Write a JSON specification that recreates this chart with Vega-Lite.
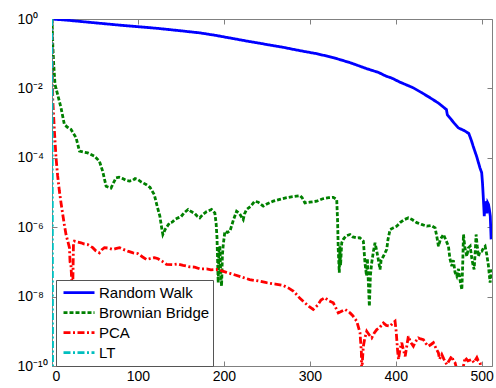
{
  "$schema": "https://vega.github.io/schema/vega-lite/v6.json",
  "width": 440,
  "height": 347,
  "autosize": "none",
  "padding": {"left": 52, "top": 19, "right": 4, "bottom": 22},
  "background": "white",
  "config": {
    "font": "Liberation Sans",
    "view": {"stroke": null},
    "axis": {
      "grid": false,
      "domainColor": "#808080",
      "domainWidth": 1,
      "tickColor": "#808080",
      "tickWidth": 1,
      "labelColor": "black",
      "labelFontSize": 14,
      "labelFont": "Liberation Sans",
      "title": null
    }
  },
  "data": {
    "values": [
      {"s": "Random Walk", "x": 0, "y": 1},
      {"s": "Random Walk", "x": 20, "y": 0.912},
      {"s": "Random Walk", "x": 50, "y": 0.776},
      {"s": "Random Walk", "x": 80, "y": 0.661},
      {"s": "Random Walk", "x": 123, "y": 0.537},
      {"s": "Random Walk", "x": 150, "y": 0.457},
      {"s": "Random Walk", "x": 172, "y": 0.398},
      {"s": "Random Walk", "x": 190, "y": 0.339},
      {"s": "Random Walk", "x": 210, "y": 0.275},
      {"s": "Random Walk", "x": 230, "y": 0.224},
      {"s": "Random Walk", "x": 250, "y": 0.184},
      {"s": "Random Walk", "x": 270, "y": 0.151},
      {"s": "Random Walk", "x": 288, "y": 0.123},
      {"s": "Random Walk", "x": 308, "y": 0.1},
      {"s": "Random Walk", "x": 327, "y": 0.0776},
      {"s": "Random Walk", "x": 347, "y": 0.055},
      {"s": "Random Walk", "x": 366, "y": 0.0372},
      {"s": "Random Walk", "x": 380, "y": 0.0288},
      {"s": "Random Walk", "x": 389, "y": 0.0224},
      {"s": "Random Walk", "x": 395, "y": 0.02},
      {"s": "Random Walk", "x": 405, "y": 0.0151},
      {"s": "Random Walk", "x": 420, "y": 0.0105},
      {"s": "Random Walk", "x": 430, "y": 0.00759},
      {"s": "Random Walk", "x": 440, "y": 0.00537},
      {"s": "Random Walk", "x": 450, "y": 0.00372},
      {"s": "Random Walk", "x": 459, "y": 0.00245},
      {"s": "Random Walk", "x": 460, "y": 0.00174},
      {"s": "Random Walk", "x": 462, "y": 0.00151},
      {"s": "Random Walk", "x": 468, "y": 0.001},
      {"s": "Random Walk", "x": 473, "y": 7.24e-4},
      {"s": "Random Walk", "x": 480, "y": 6.03e-4},
      {"s": "Random Walk", "x": 485, "y": 5.01e-4},
      {"s": "Random Walk", "x": 488, "y": 3.16e-4},
      {"s": "Random Walk", "x": 490, "y": 2.19e-4},
      {"s": "Random Walk", "x": 494, "y": 1.12e-4},
      {"s": "Random Walk", "x": 498, "y": 5.13e-5},
      {"s": "Random Walk", "x": 500, "y": 3.72e-5},
      {"s": "Random Walk", "x": 501, "y": 1.78e-5},
      {"s": "Random Walk", "x": 502, "y": 6.31e-6},
      {"s": "Random Walk", "x": 503, "y": 2.09e-6},
      {"s": "Random Walk", "x": 504, "y": 5.01e-6},
      {"s": "Random Walk", "x": 505, "y": 5.13e-6},
      {"s": "Random Walk", "x": 506, "y": 2.51e-6},
      {"s": "Random Walk", "x": 507, "y": 5.01e-6},
      {"s": "Random Walk", "x": 508, "y": 4.47e-6},
      {"s": "Random Walk", "x": 509, "y": 3.16e-6},
      {"s": "Random Walk", "x": 510, "y": 2.09e-6},
      {"s": "Random Walk", "x": 511, "y": 4.47e-7},

      {"s": "Brownian Bridge", "x": 0, "y": 1},
      {"s": "Brownian Bridge", "x": 1, "y": 0.158},
      {"s": "Brownian Bridge", "x": 2, "y": 0.049},
      {"s": "Brownian Bridge", "x": 3.5, "y": 0.0129},
      {"s": "Brownian Bridge", "x": 6.6, "y": 6.61e-3},
      {"s": "Brownian Bridge", "x": 10.5, "y": 2.75e-3},
      {"s": "Brownian Bridge", "x": 14.4, "y": 9.12e-4},
      {"s": "Brownian Bridge", "x": 18, "y": 7.59e-4},
      {"s": "Brownian Bridge", "x": 22, "y": 6.61e-4},
      {"s": "Brownian Bridge", "x": 28, "y": 3.8e-4},
      {"s": "Brownian Bridge", "x": 32, "y": 1.55e-4},
      {"s": "Brownian Bridge", "x": 37, "y": 1.45e-4},
      {"s": "Brownian Bridge", "x": 41.6, "y": 1.38e-4},
      {"s": "Brownian Bridge", "x": 49.4, "y": 1.12e-4},
      {"s": "Brownian Bridge", "x": 55.2, "y": 7.94e-5},
      {"s": "Brownian Bridge", "x": 59, "y": 4.07e-5},
      {"s": "Brownian Bridge", "x": 63, "y": 1.51e-5},
      {"s": "Brownian Bridge", "x": 66, "y": 1.41e-5},
      {"s": "Brownian Bridge", "x": 68.7, "y": 1.35e-5},
      {"s": "Brownian Bridge", "x": 71, "y": 1.78e-5},
      {"s": "Brownian Bridge", "x": 74.5, "y": 2.63e-5},
      {"s": "Brownian Bridge", "x": 78, "y": 2.75e-5},
      {"s": "Brownian Bridge", "x": 82.3, "y": 2.51e-5},
      {"s": "Brownian Bridge", "x": 86, "y": 2.24e-5},
      {"s": "Brownian Bridge", "x": 90.1, "y": 2.14e-5},
      {"s": "Brownian Bridge", "x": 94, "y": 2.24e-5},
      {"s": "Brownian Bridge", "x": 96.7, "y": 2.51e-5},
      {"s": "Brownian Bridge", "x": 100, "y": 2.34e-5},
      {"s": "Brownian Bridge", "x": 104, "y": 2.0e-5},
      {"s": "Brownian Bridge", "x": 109.5, "y": 1.7e-5},
      {"s": "Brownian Bridge", "x": 114, "y": 1.41e-5},
      {"s": "Brownian Bridge", "x": 119, "y": 8.71e-6},
      {"s": "Brownian Bridge", "x": 122.3, "y": 4.07e-6},
      {"s": "Brownian Bridge", "x": 125.5, "y": 2.09e-6},
      {"s": "Brownian Bridge", "x": 127.5, "y": 1.0e-6},
      {"s": "Brownian Bridge", "x": 129, "y": 6.17e-7},
      {"s": "Brownian Bridge", "x": 132, "y": 8.91e-7},
      {"s": "Brownian Bridge", "x": 137, "y": 1.35e-6},
      {"s": "Brownian Bridge", "x": 140, "y": 1.41e-6},
      {"s": "Brownian Bridge", "x": 143, "y": 1.66e-6},
      {"s": "Brownian Bridge", "x": 146.8, "y": 1.86e-6},
      {"s": "Brownian Bridge", "x": 150, "y": 2.0e-6},
      {"s": "Brownian Bridge", "x": 154, "y": 2.63e-6},
      {"s": "Brownian Bridge", "x": 158.4, "y": 3.24e-6},
      {"s": "Brownian Bridge", "x": 162, "y": 2.82e-6},
      {"s": "Brownian Bridge", "x": 166, "y": 2.51e-6},
      {"s": "Brownian Bridge", "x": 169, "y": 2.09e-6},
      {"s": "Brownian Bridge", "x": 172, "y": 1.86e-6},
      {"s": "Brownian Bridge", "x": 176, "y": 2.4e-6},
      {"s": "Brownian Bridge", "x": 180, "y": 2.82e-6},
      {"s": "Brownian Bridge", "x": 185.7, "y": 3.24e-6},
      {"s": "Brownian Bridge", "x": 189.5, "y": 2.57e-6},
      {"s": "Brownian Bridge", "x": 191, "y": 1.26e-6},
      {"s": "Brownian Bridge", "x": 192, "y": 5.01e-7},
      {"s": "Brownian Bridge", "x": 193.4, "y": 2.51e-8},
      {"s": "Brownian Bridge", "x": 194.3, "y": 2.0e-7},
      {"s": "Brownian Bridge", "x": 195.3, "y": 2.82e-7},
      {"s": "Brownian Bridge", "x": 196.3, "y": 5.01e-8},
      {"s": "Brownian Bridge", "x": 197.3, "y": 2.0e-8},
      {"s": "Brownian Bridge", "x": 198.3, "y": 1.58e-7},
      {"s": "Brownian Bridge", "x": 199.3, "y": 3.16e-7},
      {"s": "Brownian Bridge", "x": 201.2, "y": 7.59e-7},
      {"s": "Brownian Bridge", "x": 204, "y": 7.08e-7},
      {"s": "Brownian Bridge", "x": 207, "y": 7.59e-7},
      {"s": "Brownian Bridge", "x": 211, "y": 1.58e-6},
      {"s": "Brownian Bridge", "x": 214.8, "y": 2.88e-6},
      {"s": "Brownian Bridge", "x": 218, "y": 2.51e-6},
      {"s": "Brownian Bridge", "x": 222.5, "y": 1.66e-6},
      {"s": "Brownian Bridge", "x": 224, "y": 2.4e-6},
      {"s": "Brownian Bridge", "x": 226.4, "y": 3.24e-6},
      {"s": "Brownian Bridge", "x": 231, "y": 3.98e-6},
      {"s": "Brownian Bridge", "x": 236, "y": 5.62e-6},
      {"s": "Brownian Bridge", "x": 240, "y": 5.25e-6},
      {"s": "Brownian Bridge", "x": 245.8, "y": 4.07e-6},
      {"s": "Brownian Bridge", "x": 250, "y": 4.68e-6},
      {"s": "Brownian Bridge", "x": 257.4, "y": 5.62e-6},
      {"s": "Brownian Bridge", "x": 265, "y": 6.31e-6},
      {"s": "Brownian Bridge", "x": 273, "y": 7.08e-6},
      {"s": "Brownian Bridge", "x": 280, "y": 7.59e-6},
      {"s": "Brownian Bridge", "x": 288.5, "y": 8.13e-6},
      {"s": "Brownian Bridge", "x": 291, "y": 7.08e-6},
      {"s": "Brownian Bridge", "x": 294.3, "y": 5.01e-6},
      {"s": "Brownian Bridge", "x": 300, "y": 5.25e-6},
      {"s": "Brownian Bridge", "x": 308, "y": 5.62e-6},
      {"s": "Brownian Bridge", "x": 315, "y": 6.61e-6},
      {"s": "Brownian Bridge", "x": 322, "y": 7.08e-6},
      {"s": "Brownian Bridge", "x": 327.3, "y": 7.24e-6},
      {"s": "Brownian Bridge", "x": 331.3, "y": 6.31e-6},
      {"s": "Brownian Bridge", "x": 332.3, "y": 1.58e-6},
      {"s": "Brownian Bridge", "x": 333.1, "y": 2.29e-7},
      {"s": "Brownian Bridge", "x": 334.3, "y": 4.9e-8},
      {"s": "Brownian Bridge", "x": 335, "y": 2.82e-7},
      {"s": "Brownian Bridge", "x": 335.8, "y": 7.94e-8},
      {"s": "Brownian Bridge", "x": 337.1, "y": 3.55e-7},
      {"s": "Brownian Bridge", "x": 339, "y": 4.47e-7},
      {"s": "Brownian Bridge", "x": 342, "y": 5.62e-7},
      {"s": "Brownian Bridge", "x": 346.8, "y": 6.17e-7},
      {"s": "Brownian Bridge", "x": 350, "y": 5.25e-7},
      {"s": "Brownian Bridge", "x": 354.6, "y": 4.9e-7},
      {"s": "Brownian Bridge", "x": 358, "y": 5.01e-7},
      {"s": "Brownian Bridge", "x": 362.3, "y": 3.98e-7},
      {"s": "Brownian Bridge", "x": 364.2, "y": 9.33e-8},
      {"s": "Brownian Bridge", "x": 366, "y": 3.98e-8},
      {"s": "Brownian Bridge", "x": 367, "y": 1.26e-7},
      {"s": "Brownian Bridge", "x": 368, "y": 3.09e-8},
      {"s": "Brownian Bridge", "x": 369.3, "y": 5.25e-9},
      {"s": "Brownian Bridge", "x": 370.5, "y": 3.98e-8},
      {"s": "Brownian Bridge", "x": 372, "y": 9.33e-8},
      {"s": "Brownian Bridge", "x": 374, "y": 2.0e-7},
      {"s": "Brownian Bridge", "x": 375.9, "y": 3.55e-7},
      {"s": "Brownian Bridge", "x": 378, "y": 2.0e-7},
      {"s": "Brownian Bridge", "x": 379.7, "y": 1.17e-7},
      {"s": "Brownian Bridge", "x": 381.7, "y": 6.03e-8},
      {"s": "Brownian Bridge", "x": 383, "y": 1.12e-7},
      {"s": "Brownian Bridge", "x": 385.6, "y": 1.45e-7},
      {"s": "Brownian Bridge", "x": 389.5, "y": 2.29e-7},
      {"s": "Brownian Bridge", "x": 391, "y": 4.47e-7},
      {"s": "Brownian Bridge", "x": 393.4, "y": 8.51e-7},
      {"s": "Brownian Bridge", "x": 397, "y": 9.55e-7},
      {"s": "Brownian Bridge", "x": 401.2, "y": 1.07e-6},
      {"s": "Brownian Bridge", "x": 405, "y": 1.35e-6},
      {"s": "Brownian Bridge", "x": 410, "y": 1.66e-6},
      {"s": "Brownian Bridge", "x": 414.7, "y": 1.86e-6},
      {"s": "Brownian Bridge", "x": 419, "y": 1.66e-6},
      {"s": "Brownian Bridge", "x": 424.5, "y": 1.35e-6},
      {"s": "Brownian Bridge", "x": 430, "y": 1.2e-6},
      {"s": "Brownian Bridge", "x": 436.1, "y": 1.07e-6},
      {"s": "Brownian Bridge", "x": 441, "y": 1.12e-6},
      {"s": "Brownian Bridge", "x": 445.8, "y": 9.55e-7},
      {"s": "Brownian Bridge", "x": 448, "y": 5.01e-7},
      {"s": "Brownian Bridge", "x": 449.7, "y": 2.82e-7},
      {"s": "Brownian Bridge", "x": 452, "y": 4.47e-7},
      {"s": "Brownian Bridge", "x": 455.4, "y": 6.17e-7},
      {"s": "Brownian Bridge", "x": 458, "y": 4.47e-7},
      {"s": "Brownian Bridge", "x": 461.3, "y": 2.82e-7},
      {"s": "Brownian Bridge", "x": 463, "y": 1.26e-7},
      {"s": "Brownian Bridge", "x": 465.2, "y": 7.59e-8},
      {"s": "Brownian Bridge", "x": 467, "y": 1.12e-7},
      {"s": "Brownian Bridge", "x": 469, "y": 5.01e-8},
      {"s": "Brownian Bridge", "x": 471, "y": 3.89e-8},
      {"s": "Brownian Bridge", "x": 473, "y": 6.31e-8},
      {"s": "Brownian Bridge", "x": 475, "y": 2.82e-8},
      {"s": "Brownian Bridge", "x": 476.9, "y": 1.58e-8},
      {"s": "Brownian Bridge", "x": 478, "y": 1.0e-7},
      {"s": "Brownian Bridge", "x": 478.8, "y": 6.17e-7},
      {"s": "Brownian Bridge", "x": 480.5, "y": 2.51e-7},
      {"s": "Brownian Bridge", "x": 482.7, "y": 1.45e-7},
      {"s": "Brownian Bridge", "x": 484.5, "y": 2.51e-7},
      {"s": "Brownian Bridge", "x": 486.6, "y": 2.82e-7},
      {"s": "Brownian Bridge", "x": 488.5, "y": 1.26e-7},
      {"s": "Brownian Bridge", "x": 490, "y": 7.94e-8},
      {"s": "Brownian Bridge", "x": 491.2, "y": 6.03e-8},
      {"s": "Brownian Bridge", "x": 492.5, "y": 2.0e-7},
      {"s": "Brownian Bridge", "x": 493.5, "y": 6.17e-7},
      {"s": "Brownian Bridge", "x": 495, "y": 2.51e-7},
      {"s": "Brownian Bridge", "x": 496.2, "y": 1.45e-7},
      {"s": "Brownian Bridge", "x": 498, "y": 2.0e-7},
      {"s": "Brownian Bridge", "x": 500.2, "y": 2.04e-7},
      {"s": "Brownian Bridge", "x": 502, "y": 2.51e-7},
      {"s": "Brownian Bridge", "x": 504, "y": 2.82e-7},
      {"s": "Brownian Bridge", "x": 506, "y": 1.58e-7},
      {"s": "Brownian Bridge", "x": 507.9, "y": 7.59e-8},
      {"s": "Brownian Bridge", "x": 509.8, "y": 2.51e-8},
      {"s": "Brownian Bridge", "x": 511, "y": 5.01e-8},
      {"s": "Brownian Bridge", "x": 512, "y": 6.03e-8},

      {"s": "PCA", "x": 0, "y": 1},
      {"s": "PCA", "x": 0.8, "y": 5.37e-3},
      {"s": "PCA", "x": 2.8, "y": 5.89e-4},
      {"s": "PCA", "x": 4.7, "y": 1e-4},
      {"s": "PCA", "x": 6.5, "y": 3.16e-5},
      {"s": "PCA", "x": 8.6, "y": 1.1e-5},
      {"s": "PCA", "x": 10.5, "y": 5.01e-6},
      {"s": "PCA", "x": 12.5, "y": 2.34e-6},
      {"s": "PCA", "x": 14.5, "y": 1.12e-6},
      {"s": "PCA", "x": 16.3, "y": 6.17e-7},
      {"s": "PCA", "x": 18.3, "y": 3.98e-7},
      {"s": "PCA", "x": 20.3, "y": 2.57e-7},
      {"s": "PCA", "x": 21, "y": 1e-7},
      {"s": "PCA", "x": 22, "y": 8.51e-8},
      {"s": "PCA", "x": 22.5, "y": 5.01e-8},
      {"s": "PCA", "x": 23, "y": 2.51e-8},
      {"s": "PCA", "x": 23.5, "y": 1e-12},
      {"s": "PCA", "x": 24, "y": 1e-8},
      {"s": "PCA", "x": 25, "y": 3.55e-7},
      {"s": "PCA", "x": 26, "y": 3.98e-7},
      {"s": "PCA", "x": 30, "y": 3.72e-7},
      {"s": "PCA", "x": 33.8, "y": 3.55e-7},
      {"s": "PCA", "x": 37, "y": 3.31e-7},
      {"s": "PCA", "x": 41.6, "y": 3.16e-7},
      {"s": "PCA", "x": 47.4, "y": 2.57e-7},
      {"s": "PCA", "x": 51, "y": 2.09e-7},
      {"s": "PCA", "x": 55.2, "y": 1.82e-7},
      {"s": "PCA", "x": 58, "y": 2.24e-7},
      {"s": "PCA", "x": 61, "y": 2.57e-7},
      {"s": "PCA", "x": 65, "y": 2.51e-7},
      {"s": "PCA", "x": 70.7, "y": 2.29e-7},
      {"s": "PCA", "x": 74, "y": 2.4e-7},
      {"s": "PCA", "x": 78.5, "y": 2.57e-7},
      {"s": "PCA", "x": 83, "y": 2.29e-7},
      {"s": "PCA", "x": 88.2, "y": 2.04e-7},
      {"s": "PCA", "x": 94.4, "y": 1.82e-7},
      {"s": "PCA", "x": 99.8, "y": 1.74e-7},
      {"s": "PCA", "x": 105, "y": 1.41e-7},
      {"s": "PCA", "x": 110, "y": 1.17e-7},
      {"s": "PCA", "x": 115, "y": 1.26e-7},
      {"s": "PCA", "x": 119.3, "y": 1.32e-7},
      {"s": "PCA", "x": 123.5, "y": 1.23e-7},
      {"s": "PCA", "x": 128, "y": 1.05e-7},
      {"s": "PCA", "x": 133.3, "y": 8.51e-8},
      {"s": "PCA", "x": 140, "y": 8.32e-8},
      {"s": "PCA", "x": 146, "y": 8.71e-8},
      {"s": "PCA", "x": 152.6, "y": 7.94e-8},
      {"s": "PCA", "x": 160, "y": 7.24e-8},
      {"s": "PCA", "x": 166, "y": 7.08e-8},
      {"s": "PCA", "x": 172, "y": 6.31e-8},
      {"s": "PCA", "x": 180, "y": 6.31e-8},
      {"s": "PCA", "x": 185, "y": 5.89e-8},
      {"s": "PCA", "x": 191.5, "y": 6.03e-8},
      {"s": "PCA", "x": 197, "y": 5.62e-8},
      {"s": "PCA", "x": 203, "y": 5.01e-8},
      {"s": "PCA", "x": 210.8, "y": 4.37e-8},
      {"s": "PCA", "x": 220, "y": 3.72e-8},
      {"s": "PCA", "x": 230, "y": 3.09e-8},
      {"s": "PCA", "x": 240, "y": 2.82e-8},
      {"s": "PCA", "x": 249.7, "y": 2.51e-8},
      {"s": "PCA", "x": 260, "y": 2.29e-8},
      {"s": "PCA", "x": 269, "y": 2.09e-8},
      {"s": "PCA", "x": 275, "y": 1.78e-8},
      {"s": "PCA", "x": 280.7, "y": 1.45e-8},
      {"s": "PCA", "x": 285, "y": 1.12e-8},
      {"s": "PCA", "x": 288.5, "y": 8.91e-9},
      {"s": "PCA", "x": 294.3, "y": 6.61e-9},
      {"s": "PCA", "x": 299, "y": 5.25e-9},
      {"s": "PCA", "x": 304, "y": 4.27e-9},
      {"s": "PCA", "x": 309, "y": 5.62e-9},
      {"s": "PCA", "x": 313, "y": 7.94e-9},
      {"s": "PCA", "x": 317.6, "y": 9.33e-9},
      {"s": "PCA", "x": 322, "y": 7.59e-9},
      {"s": "PCA", "x": 327.3, "y": 6.61e-9},
      {"s": "PCA", "x": 333.1, "y": 3.39e-9},
      {"s": "PCA", "x": 337, "y": 3.8e-9},
      {"s": "PCA", "x": 341, "y": 4.27e-9},
      {"s": "PCA", "x": 344, "y": 3.8e-9},
      {"s": "PCA", "x": 346.8, "y": 3.39e-9},
      {"s": "PCA", "x": 350, "y": 2.82e-9},
      {"s": "PCA", "x": 354.6, "y": 1.95e-9},
      {"s": "PCA", "x": 358.4, "y": 9.12e-10},
      {"s": "PCA", "x": 360, "y": 2.51e-10},
      {"s": "PCA", "x": 360.4, "y": 5.01e-11},
      {"s": "PCA", "x": 361.3, "y": 1.58e-10},
      {"s": "PCA", "x": 362.3, "y": 3.72e-10},
      {"s": "PCA", "x": 364, "y": 6.31e-10},
      {"s": "PCA", "x": 366.2, "y": 1e-9},
      {"s": "PCA", "x": 369, "y": 7.94e-10},
      {"s": "PCA", "x": 372, "y": 6.46e-10},
      {"s": "PCA", "x": 375, "y": 8.91e-10},
      {"s": "PCA", "x": 377.9, "y": 1.12e-9},
      {"s": "PCA", "x": 381, "y": 1.26e-9},
      {"s": "PCA", "x": 385.6, "y": 1.74e-9},
      {"s": "PCA", "x": 389, "y": 1.48e-9},
      {"s": "PCA", "x": 393.4, "y": 1.41e-9},
      {"s": "PCA", "x": 396, "y": 1.66e-9},
      {"s": "PCA", "x": 399.2, "y": 1.95e-9},
      {"s": "PCA", "x": 400.5, "y": 1e-9},
      {"s": "PCA", "x": 401.2, "y": 5.75e-10},
      {"s": "PCA", "x": 402.3, "y": 2.51e-10},
      {"s": "PCA", "x": 403.2, "y": 1.55e-10},
      {"s": "PCA", "x": 405, "y": 3.16e-10},
      {"s": "PCA", "x": 407, "y": 4.68e-10},
      {"s": "PCA", "x": 409, "y": 2.82e-10},
      {"s": "PCA", "x": 411, "y": 1.91e-10},
      {"s": "PCA", "x": 413, "y": 3.98e-10},
      {"s": "PCA", "x": 414.7, "y": 7.24e-10},
      {"s": "PCA", "x": 417, "y": 5.01e-10},
      {"s": "PCA", "x": 420.5, "y": 3.72e-10},
      {"s": "PCA", "x": 423, "y": 5.01e-10},
      {"s": "PCA", "x": 426.3, "y": 6.46e-10},
      {"s": "PCA", "x": 429, "y": 6.03e-10},
      {"s": "PCA", "x": 432.2, "y": 5.75e-10},
      {"s": "PCA", "x": 435, "y": 4.47e-10},
      {"s": "PCA", "x": 438, "y": 3.72e-10},
      {"s": "PCA", "x": 441, "y": 4.17e-10},
      {"s": "PCA", "x": 443.8, "y": 4.68e-10},
      {"s": "PCA", "x": 447, "y": 3.16e-10},
      {"s": "PCA", "x": 449.6, "y": 2.4e-10},
      {"s": "PCA", "x": 451, "y": 1.58e-10},
      {"s": "PCA", "x": 453.6, "y": 2.14e-10},
      {"s": "PCA", "x": 456, "y": 1.58e-10},
      {"s": "PCA", "x": 459.4, "y": 1.1e-10},
      {"s": "PCA", "x": 462, "y": 1.41e-10},
      {"s": "PCA", "x": 465.2, "y": 1.91e-10},
      {"s": "PCA", "x": 467, "y": 1.41e-10},
      {"s": "PCA", "x": 469.1, "y": 1.23e-10},
      {"s": "PCA", "x": 472, "y": 6.31e-11},
      {"s": "PCA", "x": 475, "y": 3.98e-11},
      {"s": "PCA", "x": 478, "y": 7.94e-11},
      {"s": "PCA", "x": 480.7, "y": 1.74e-10},
      {"s": "PCA", "x": 484, "y": 1.41e-10},
      {"s": "PCA", "x": 488.5, "y": 1.55e-10},
      {"s": "PCA", "x": 491, "y": 1.26e-10},
      {"s": "PCA", "x": 494.4, "y": 1.74e-10},
      {"s": "PCA", "x": 496, "y": 1.41e-10},
      {"s": "PCA", "x": 498.2, "y": 1.23e-10},
      {"s": "PCA", "x": 500, "y": 5.01e-11},
      {"s": "PCA", "x": 505, "y": 3.16e-11},
      {"s": "PCA", "x": 512, "y": 2.51e-11},

      {"s": "LT", "x": 0, "y": 1},
      {"s": "LT", "x": 1, "y": 1e-16},
      {"s": "LT", "x": 512, "y": 1e-16}
    ]
  },
  "layer": [
    {
      "mark": {"type": "line", "clip": true, "strokeWidth": 2.8},
      "encoding": {
        "x": {
          "field": "x", "type": "quantitative",
          "scale": {"domain": [0, 512], "nice": false, "zero": false},
          "axis": {"orient": "bottom", "values": [0, 100, 200, 300, 400, 500], "format": "d", "tickSize": -5, "labelPadding": 8}
        },
        "y": {
          "field": "y", "type": "quantitative",
          "scale": {"type": "log", "domain": [1e-10, 1], "nice": false},
          "axis": {
            "orient": "left",
            "values": [1, 0.01, 0.0001, 1e-6, 1e-8, 1e-10],
            "tickSize": -5,
            "labelAlign": "left",
            "labelPadding": 40,
            "labelExpr": "datum.value >= 0.5 ? '10⁰' : datum.value >= 0.005 ? '10⁻²' : datum.value >= 5e-5 ? '10⁻⁴' : datum.value >= 5e-7 ? '10⁻⁶' : datum.value >= 5e-9 ? '10⁻⁸' : '10⁻¹⁰'"
          }
        },
        "color": {
          "field": "s", "type": "nominal",
          "scale": {"domain": ["Random Walk", "Brownian Bridge", "PCA", "LT"], "range": ["#0000ff", "#008000", "#ff0000", "#00bfbf"]},
          "legend": {"title": null, "orient": "none", "legendX": 4, "legendY": 261, "symbolType": "stroke", "symbolSize": 961, "symbolStrokeWidth": 2.8, "labelFontSize": 15, "labelColor": "black", "fillColor": "white", "strokeColor": "#555555", "padding": 3, "clipHeight": 19.3, "rowPadding": 0, "labelOffset": 3, "symbolOffset": 3}
        },
        "strokeDash": {
          "field": "s", "type": "nominal",
          "scale": {"domain": ["Random Walk", "Brownian Bridge", "PCA", "LT"], "range": [[1, 0], [4, 2], [7, 2.5, 2, 2.5], [7, 2.5, 2, 2.5]]},
          "legend": {"title": null, "orient": "none", "legendX": 4, "legendY": 261, "symbolType": "stroke", "symbolSize": 961, "symbolStrokeWidth": 2.8, "labelFontSize": 15, "labelColor": "black", "fillColor": "white", "strokeColor": "#555555", "padding": 3, "clipHeight": 19.3, "rowPadding": 0, "labelOffset": 3, "symbolOffset": 3}
        }
      }
    },
    {
      "data": {"values": [{"x": 0, "y": 1}]},
      "mark": {"type": "point", "opacity": 0},
      "encoding": {
        "x": {
          "field": "x", "type": "quantitative",
          "scale": {"domain": [0, 512], "nice": false, "zero": false},
          "axis": {"orient": "top", "values": [0, 100, 200, 300, 400, 500], "labels": false, "tickSize": -5}
        },
        "y": {
          "field": "y", "type": "quantitative",
          "scale": {"type": "log", "domain": [1e-10, 1], "nice": false},
          "axis": {"orient": "right", "values": [1, 0.01, 0.0001, 1e-6, 1e-8, 1e-10], "labels": false, "tickSize": -5}
        }
      }
    }
  ],
  "resolve": {"axis": {"x": "independent", "y": "independent"}}
}
